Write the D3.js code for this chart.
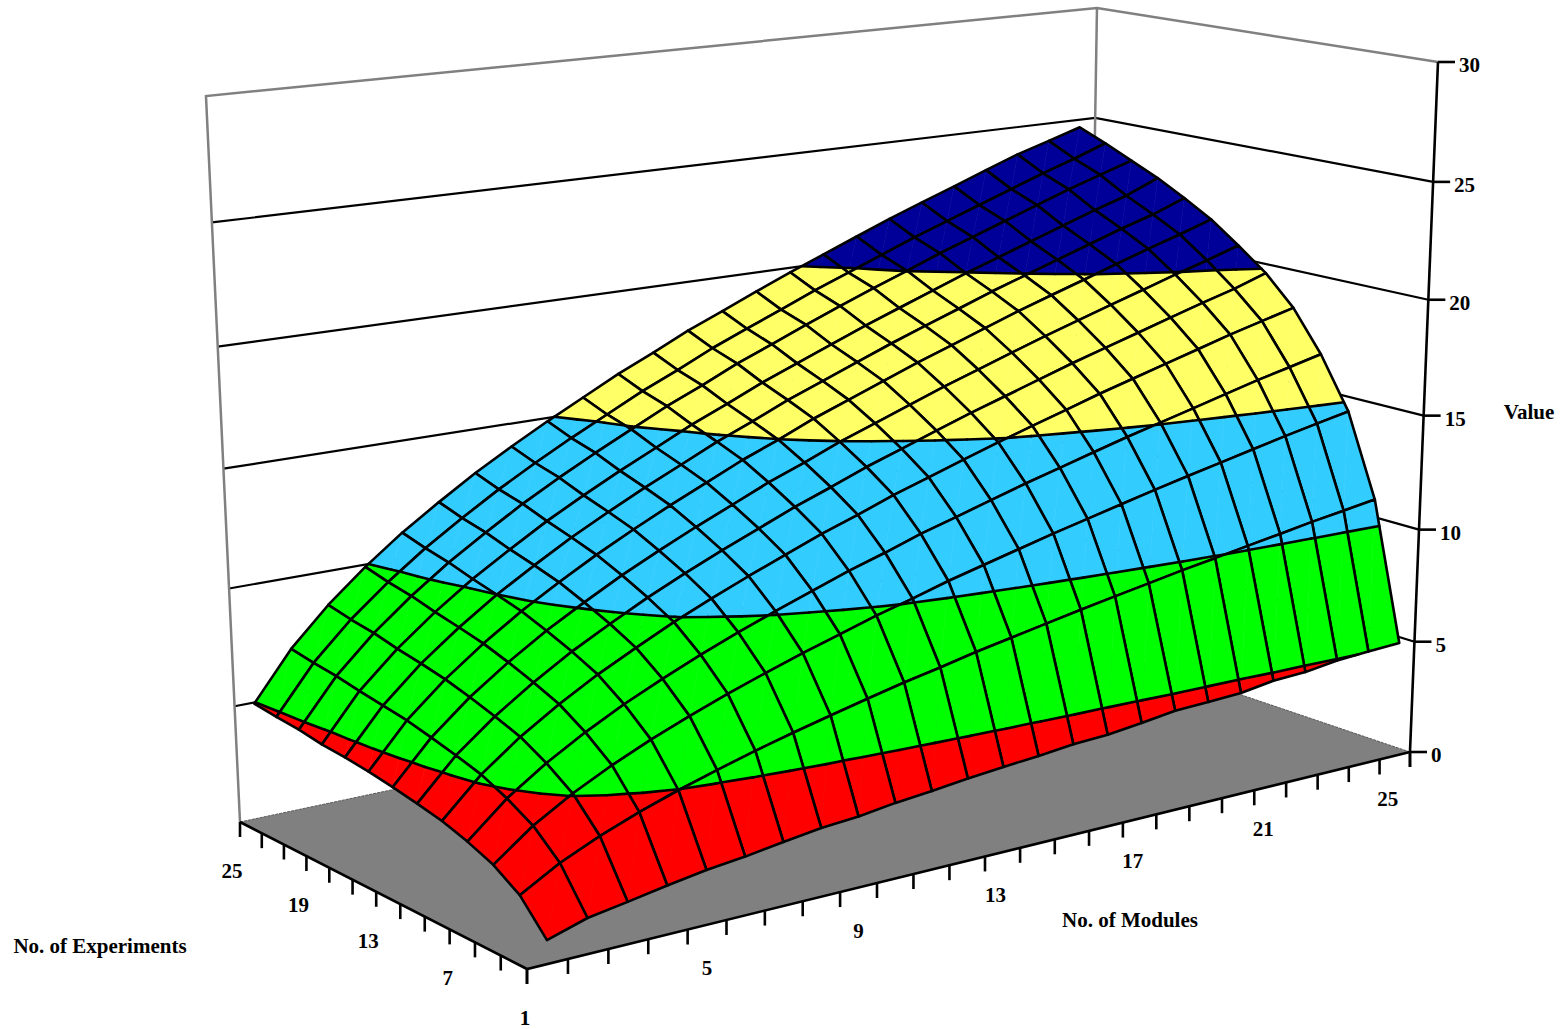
<!DOCTYPE html>
<html>
<head>
<meta charset="utf-8">
<style>
  html, body { margin: 0; background: #fff; }
  svg { display: block; }
  text { font-family: "Liberation Serif", serif; font-weight: bold; font-size: 21px; fill: #000; }
</style>
</head>
<body>
<div id="chart"></div>
<script src="https://cdn.jsdelivr.net/npm/d3@7"></script>
<script>
// modules run 1..25, experiments 1,3,..25
const modules = d3.range(1, 26);
const experiments = d3.range(1, 26, 2);
const moduleLabels = [5, 9, 13, 17, 21, 25];
const experimentLabels = [1, 7, 13, 19, 25];
const valueTicks = [0, 5, 10, 15, 20, 25, 30];
const levels = [5, 10, 15, 20, 25];
const levelColors = ['#ff0000', '#00ff00', '#33ccff', '#ffff66', '#000099', '#000099'];

// surface values, one row per experiment count (front to back)
const exp1  = [0.95,1.44,1.70,1.98,2.23,2.40,2.63,2.84,2.95,3.16,3.30,3.48,3.62,3.74,3.90,3.97,4.14,4.34,4.39,4.46,4.68,4.74,4.94,5.03,5.10];
const exp3  = [2.22,3.13,3.84,4.44,4.97,5.44,5.88,6.28,6.66,7.02,7.37,7.68,8.01,8.30,8.59,8.88,9.15,9.41,9.68,9.92,10.17,10.41,10.66,10.88,11.10];
const exp5  = [2.93,4.13,5.07,5.86,6.56,7.18,7.76,8.29,8.79,9.26,9.73,10.14,10.58,10.96,11.34,11.72,12.07,12.42,12.77,13.10,13.42,13.74,14.06,14.36,14.65];
const exp7  = [3.37,4.75,5.83,6.74,7.55,8.26,8.93,9.54,10.11,10.65,11.19,11.66,12.17,12.60,13.04,13.48,13.88,14.29,14.69,15.06,15.43,15.81,16.18,16.51,16.85];
const exp9  = [3.72,5.25,6.44,7.44,8.33,9.11,9.86,10.53,11.16,11.76,12.35,12.87,13.43,13.91,14.40,14.88,15.33,15.77,16.22,16.63,17.04,17.45,17.86,18.23,18.60];
const exp11 = [3.95,5.57,6.83,7.90,8.85,9.68,10.47,11.18,11.85,12.48,13.11,13.67,14.26,14.77,15.29,15.80,16.27,16.75,17.22,17.66,18.09,18.53,18.96,19.36,19.85];
const exp13 = [4.15,5.85,7.18,8.30,9.30,10.17,11.00,11.74,12.45,13.11,13.78,14.36,14.98,15.52,16.06,16.60,17.10,17.60,18.09,18.55,19.01,19.46,19.92,20.34,20.80];
const exp15 = [4.33,6.11,7.49,8.66,9.70,10.61,11.47,12.25,12.99,13.68,14.38,14.98,15.63,16.19,16.76,17.32,17.84,18.36,18.88,19.36,19.83,20.31,20.78,21.22,21.70];
const exp17 = [4.46,6.29,7.72,8.92,9.99,10.93,11.82,12.62,13.38,14.09,14.81,15.43,16.10,16.68,17.26,17.84,18.38,18.91,19.45,19.94,20.43,20.92,21.41,21.85,22.40];
const exp19 = [4.55,6.46,7.92,9.16,10.26,11.22,12.14,12.96,13.74,14.47,15.21,15.85,16.53,17.13,17.72,18.32,18.87,19.42,19.97,20.47,20.98,21.48,21.98,22.44,23.05];
const exp21 = [4.72,6.66,8.17,9.44,10.57,11.56,12.51,13.36,14.16,14.92,15.67,16.33,17.04,17.65,18.27,18.88,19.45,20.01,20.58,21.10,21.62,22.14,22.66,23.13,23.60];
const exp23 = [4.82,6.80,8.34,9.64,10.80,11.81,12.77,13.64,14.46,15.23,16.00,16.68,17.40,18.03,18.65,19.28,19.86,20.44,21.02,21.55,22.08,22.61,23.14,23.62,24.15];
const exp25 = [4.95,6.98,8.56,9.90,11.09,12.13,13.12,14.01,14.85,15.64,16.43,17.13,17.87,18.51,19.16,19.80,20.39,20.99,21.58,22.13,22.67,23.22,23.76,24.20,24.65];
const surface = [exp1, exp3, exp5, exp7, exp9, exp11, exp13, exp15, exp17, exp19, exp21, exp23, exp25];

const width = 1563, height = 1029;
const gridWidth = 2.6;

// unit cube position for each data dimension
const uScale = d3.scaleLinear().domain([0.5, 25.5]).range([0, 1]);
const vScale = d3.scaleLinear().domain([1, 25]).range([0, 1]);
const hScale = d3.scaleLinear().domain([0, 30]).range([0, 1]);

// perspective camera fitted on the corners of the box
function project(m, e, z){
    let u = uScale(m), v = vScale(e), h = hScale(z);
    let w = 1 + 0.16746*u + 0.10693*v - 0.05709*h;
    return [
        (527 + 1119.1*u - 261.34*v - 49.41*h)/w,
        (969 - 91.07*u - 59.10*v - 809.09*h)/w
    ];
}

const svg = d3.select('#chart').append('svg')
    .attr('width', width)
    .attr('height', height)
    .attr('viewBox', `0 0 ${width} ${height}`);

const line = d3.line();
const closed = pts => line(pts) + 'Z';
const mMin = 0.5, mMax = 25.5, eMin = 1, eMax = 25, zMax = 30;

// floor
svg.append('path')
    .attr('d', closed([project(mMin,eMin,0), project(mMin,eMax,0), project(mMax,eMax,0), project(mMax,eMin,0)]))
    .attr('fill', '#808080');
svg.append('path')
    .attr('d', line([project(mMin,eMax,0), project(mMax,eMax,0), project(mMax,eMin,0)]))
    .attr('fill', 'none').attr('stroke', '#5a5a5a').attr('stroke-width', 1).attr('stroke-dasharray', '3 1');

// back walls
svg.append('g').selectAll('path')
    .data(valueTicks.filter(d => d > 0 && d < zMax))
    .join('path')
    .attr('d', d => line([project(mMin,eMax,d), project(mMax,eMax,d), project(mMax,eMin,d)]))
    .attr('fill', 'none').attr('stroke', '#000').attr('stroke-width', 2.2);
svg.append('path')
    .attr('d', line([project(mMin,eMax,0), project(mMin,eMax,zMax), project(mMax,eMax,zMax), project(mMax,eMin,zMax)]))
    .attr('fill', 'none').attr('stroke', '#808080').attr('stroke-width', 2.5);
svg.append('path')
    .attr('d', line([project(mMax,eMax,0), project(mMax,eMax,zMax)]))
    .attr('fill', 'none').attr('stroke', '#808080').attr('stroke-width', 2.5);

// front floor edges
svg.append('path')
    .attr('d', line([project(mMin,eMax,0), project(mMin,eMin,0), project(mMax,eMin,0)]))
    .attr('fill', 'none').attr('stroke', '#000').attr('stroke-width', gridWidth);

// floor ticks
const tickLen = 15;
const floorTicks = d3.range(0.5, 26).map(m => project(m,eMin,0))
    .concat(experiments.map(e => project(mMin,e,0)));
svg.append('g').selectAll('line')
    .data(floorTicks)
    .join('line')
    .attr('x1', d => d[0]).attr('y1', d => d[1])
    .attr('x2', d => d[0]).attr('y2', d => d[1] + tickLen)
    .attr('stroke', '#000').attr('stroke-width', gridWidth);

svg.append('g').selectAll('text')
    .data(moduleLabels)
    .join('text')
    .attr('x', d => project(d,eMin,0)[0] + (d < 13 ? 0 : -7))
    .attr('y', d => project(d,eMin,0)[1] + 50)
    .attr('text-anchor', 'middle')
    .text(d => d);
svg.append('g').selectAll('text')
    .data(experimentLabels)
    .join('text')
    .attr('x', d => project(mMin,d,0)[0] + (d < 13 ? -2 : -8))
    .attr('y', d => project(mMin,d,0)[1] + 56)
    .attr('text-anchor', 'middle')
    .text(d => d);

// value axis on the right corner
svg.append('path')
    .attr('d', line([project(mMax,eMin,0), project(mMax,eMin,zMax)]))
    .attr('fill', 'none').attr('stroke', '#000').attr('stroke-width', gridWidth);
svg.append('line')
    .attr('x1', project(mMax,eMin,0)[0]).attr('y1', project(mMax,eMin,0)[1])
    .attr('x2', project(mMax,eMin,0)[0]).attr('y2', project(mMax,eMin,0)[1] + 15)
    .attr('stroke', '#000').attr('stroke-width', gridWidth);
svg.append('g').selectAll('line')
    .data(valueTicks)
    .join('line')
    .attr('x1', d => project(mMax,eMin,d)[0]).attr('y1', d => project(mMax,eMin,d)[1])
    .attr('x2', d => project(mMax,eMin,d)[0] + 17).attr('y2', d => project(mMax,eMin,d)[1])
    .attr('stroke', '#000').attr('stroke-width', gridWidth);
svg.append('g').selectAll('text')
    .data(valueTicks)
    .join('text')
    .attr('x', d => project(mMax,eMin,d)[0] + 21)
    .attr('y', d => project(mMax,eMin,d)[1] + 10)
    .text(d => d);

// clip a triangle [[m,e,z],...] to one side of a level
function clipBelow(poly, level, keepBelow){
    let out = [];
    poly.forEach((a, i) => {
        let b = poly[(i+1) % poly.length];
        let aIn = keepBelow ? a[2] <= level : a[2] >= level;
        let bIn = keepBelow ? b[2] <= level : b[2] >= level;
        if(aIn) out.push(a);
        if(aIn !== bIn){
            let t = (level - a[2])/(b[2] - a[2]);
            out.push([a[0]+(b[0]-a[0])*t, a[1]+(b[1]-a[1])*t, level]);
        }
    });
    return out;
}

// level crossing in a triangle, two points at most
function contourSegment(tri, level){
    let pts = [];
    tri.forEach((a, i) => {
        let b = tri[(i+1) % 3];
        if((a[2] < level) !== (b[2] < level)){
            let t = (level - a[2])/(b[2] - a[2]);
            pts.push([a[0]+(b[0]-a[0])*t, a[1]+(b[1]-a[1])*t, level]);
        }
    });
    return pts.length === 2 ? pts : null;
}

// cells, far corner first so near cells paint over them
const cells = [];
for(let j = experiments.length - 2; j >= 0; j--){
    for(let i = modules.length - 2; i >= 0; i--){
        let c = (a, b) => [modules[a], experiments[b], surface[b][a]];
        cells.push({
            outline: [c(i,j), c(i+1,j), c(i+1,j+1), c(i,j+1)],
            tris: [[c(i,j), c(i+1,j), c(i+1,j+1)], [c(i,j), c(i+1,j+1), c(i,j+1)]]
        });
    }
}

const toScreen = pts => pts.map(p => project(p[0], p[1], p[2]));
const bands = [0].concat(levels).concat([zMax]);

const cellGroups = svg.append('g').selectAll('g')
    .data(cells)
    .join('g');

cellGroups.each(function(cell){
    let g = d3.select(this);
    cell.tris.forEach(tri => {
        bands.slice(0, -1).forEach((lo, k) => {
            let poly = clipBelow(clipBelow(tri, lo, false), bands[k+1], true);
            if(poly.length < 3) return;
            g.append('path')
                .attr('d', closed(toScreen(poly)))
                .attr('fill', levelColors[k])
                .attr('stroke', levelColors[k]).attr('stroke-width', 0.6); // keeps the triangle seam faint
        });
    });
    cell.tris.forEach(tri => {
        levels.forEach(level => {
            let seg = contourSegment(tri, level);
            if(!seg) return;
            g.append('path')
                .attr('d', line(toScreen(seg)))
                .attr('stroke', '#000').attr('stroke-width', gridWidth)
                .attr('stroke-linecap', 'round');
        });
    });
    g.append('path')
        .attr('d', closed(toScreen(cell.outline)))
        .attr('fill', 'none')
        .attr('stroke', '#000').attr('stroke-width', gridWidth)
        .attr('stroke-linejoin', 'round');
});

// axis titles
svg.append('text').attr('x', 1529).attr('y', 419).attr('text-anchor', 'middle').text('Value');
svg.append('text').attr('x', 1130).attr('y', 927).attr('text-anchor', 'middle').text('No. of Modules');
svg.append('text').attr('x', 100).attr('y', 953).attr('text-anchor', 'middle').text('No. of Experiments');
</script>
</body>
</html>
